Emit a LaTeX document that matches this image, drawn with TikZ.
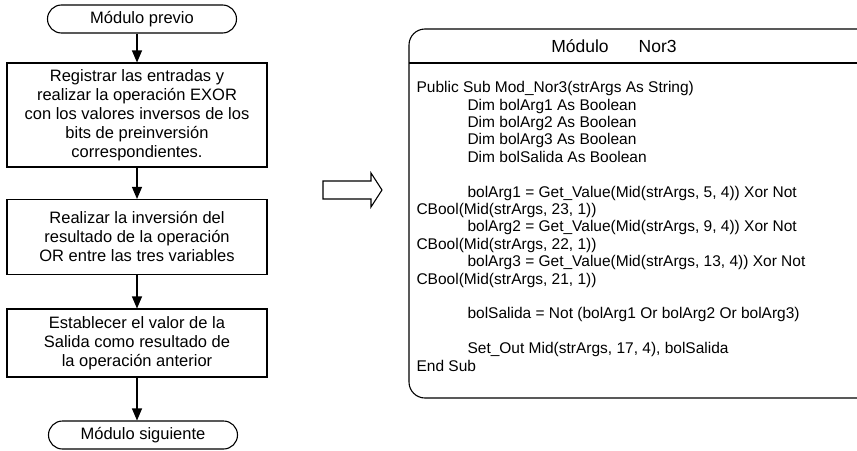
\documentclass[tikz,border=0pt]{standalone}
\usepackage{fontspec}
\setmainfont{Liberation Sans}
\usetikzlibrary{arrows.meta,shapes.misc}
\begin{document}
\begin{tikzpicture}[x=1pt, y=-1pt, line width=1.1pt,
    every node/.style={font=\fontsize{16.5}{19}\selectfont},
    paso/.style={draw, minimum width=260pt, align=center, inner sep=0pt},
    terminal/.style={draw, rounded rectangle, minimum width=189pt, minimum height=28pt, inner sep=0pt},
    flecha/.style={-{Triangle[width=10pt,length=12pt]}}]
  \useasboundingbox (0,0) rectangle (857,450);
  % diagrama de flujo
  \node[terminal] (previo) at (142,19) {Módulo previo};
  \node[paso, minimum height=104pt] (registrar) at (137,115) {Registrar las entradas y\\realizar la operación EXOR\\con los valores inversos de los\\bits de preinversión\\correspondientes.};
  \node[paso, minimum height=75pt] (invertir) at (137,237) {Realizar la inversión del\\resultado de la operación\\OR entre las tres variables};
  \node[paso, minimum height=68pt] (salida) at (137,343) {Establecer el valor de la\\Salida como resultado de\\la operación anterior};
  \node[terminal] (siguiente) at (143,435) {Módulo siguiente};
  \draw[flecha] (previo.south -| registrar.north) -- (registrar.north);
  \draw[flecha] (registrar) -- (invertir);
  \draw[flecha] (invertir) -- (salida);
  \draw[flecha] (salida.south) -- (salida.south |- siguiente.north);
  % flecha hueca
  \draw (323,181) -- (371,181) -- (371,173) -- (382,190) -- (371,207) -- (371,199) -- (323,199) -- cycle;
  % modulo Nor3
  \draw[rounded corners=16pt] (870,29) -- (409,29) -- (409,398) -- (870,398);
  \draw (409,63) -- (857,63);
  \node[font=\fontsize{17.5}{20}\selectfont] (titulo) at (614,46) {Módulo\hspace{30pt}Nor3};
  \node[anchor=north west, align=left, inner sep=0pt, font=\fontsize{15.5}{17.4}\selectfont] (codigo) at (416,81) {%
    Public Sub Mod\_Nor3(strArgs As String)\\
    \hspace*{51pt}Dim bolArg1 As Boolean\\
    \hspace*{51pt}Dim bolArg2 As Boolean\\
    \hspace*{51pt}Dim bolArg3 As Boolean\\
    \hspace*{51pt}Dim bolSalida As Boolean\\[17.4pt]
    \hspace*{51pt}bolArg1 = Get\_Value(Mid(strArgs, 5, 4)) Xor Not\\
    CBool(Mid(strArgs, 23, 1))\\
    \hspace*{51pt}bolArg2 = Get\_Value(Mid(strArgs, 9, 4)) Xor Not\\
    CBool(Mid(strArgs, 22, 1))\\
    \hspace*{51pt}bolArg3 = Get\_Value(Mid(strArgs, 13, 4)) Xor Not\\
    CBool(Mid(strArgs, 21, 1))\\[17.4pt]
    \hspace*{51pt}bolSalida = Not (bolArg1 Or bolArg2 Or bolArg3)\\[17.4pt]
    \hspace*{51pt}Set\_Out Mid(strArgs, 17, 4), bolSalida\\
    End Sub};
\end{tikzpicture}
\end{document}
